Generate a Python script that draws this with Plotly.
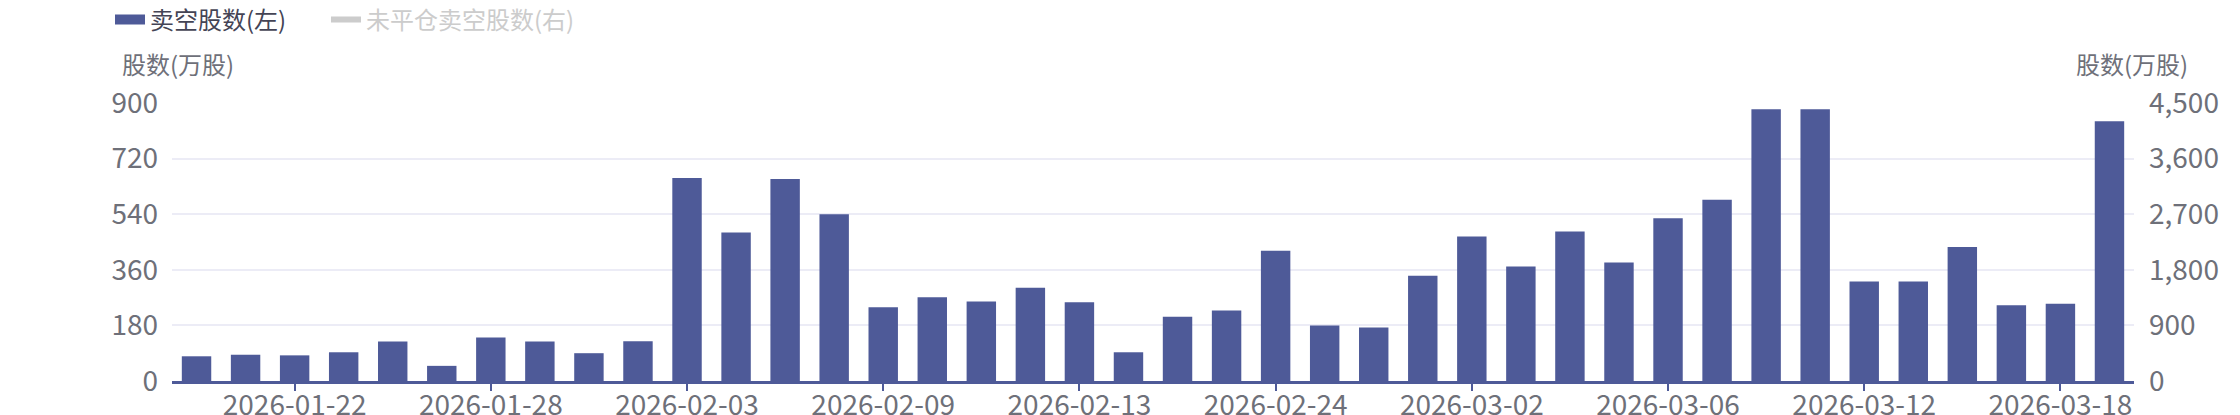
import plotly.graph_objects as go

dates = [
    "2026-01-20", "2026-01-21", "2026-01-22", "2026-01-23", "2026-01-26",
    "2026-01-27", "2026-01-28", "2026-01-29", "2026-01-30", "2026-02-02",
    "2026-02-03", "2026-02-04", "2026-02-05", "2026-02-06", "2026-02-09",
    "2026-02-10", "2026-02-11", "2026-02-12", "2026-02-13", "2026-02-16",
    "2026-02-20", "2026-02-23", "2026-02-24", "2026-02-25", "2026-02-26",
    "2026-02-27", "2026-03-02", "2026-03-03", "2026-03-04", "2026-03-05",
    "2026-03-06", "2026-03-09", "2026-03-10", "2026-03-11", "2026-03-12",
    "2026-03-13", "2026-03-16", "2026-03-17", "2026-03-18", "2026-03-19",
]
short_shares = [
    80, 85, 83, 93, 128, 49, 141, 128, 90, 129,
    657, 481, 654, 540, 239, 271, 257, 302, 255, 93,
    208, 228, 422, 180, 173, 341, 468, 371, 484, 384,
    527, 587, 880, 880, 322, 322, 434, 245, 250, 841,
]
open_short_shares = [None] * len(dates)  # series hidden in the reference

tick_dates = dates[2::4]
left_ticks = [0, 180, 360, 540, 720, 900]
right_ticks = [0, 900, 1800, 2700, 3600, 4500]

W, H = 2240, 415
L, R, T, B = 172, 106, 103, 34
pw, ph = W - L - R, H - T - B

def px_x(x):
    return (x - L) / pw

def px_y(y):
    return (H - B - y) / ph

bar_color = "#4e5a98"
tick_color = "#6e7079"
grid_color = "#ececf6"
font_family = "Noto Sans CJK SC, Noto Sans, sans-serif"

fig = go.Figure()
fig.add_trace(go.Bar(
    x=dates, y=short_shares, name="卖空股数(左)",
    marker=dict(color=bar_color, line=dict(width=0)),
    yaxis="y", showlegend=False, legendgroup="a",
))
# legend entry for the bars (wide rectangle icon)
fig.add_trace(go.Scatter(
    x=dates, y=[None] * len(dates), mode="lines",
    name="卖空股数(左)\u3000\u00a0\u00a0",
    line=dict(color=bar_color, width=14), yaxis="y", legendgroup="a",
))
fig.add_trace(go.Scatter(
    x=dates, y=open_short_shares, mode="lines",
    name="<span style='color:#cccccc'>未平仓卖空股数(右)</span>",
    line=dict(color="#cccccc", width=6),
    yaxis="y2",
))

fig.update_layout(
    width=W, height=H,
    margin=dict(l=L, r=R, t=T, b=B, autoexpand=False),
    paper_bgcolor="white", plot_bgcolor="white",
    font=dict(family=font_family, color=tick_color),
    bargap=0.4,
    showlegend=True,
    legend=dict(
        orientation="h", x=px_x(110), xanchor="left", y=px_y(20), yanchor="middle",
        font=dict(size=24, color="#444455"), itemwidth=30,
        traceorder="normal", bgcolor="rgba(0,0,0,0)",
    ),
    xaxis=dict(
        type="category", categoryorder="array", categoryarray=dates,
        tickmode="array", tickvals=tick_dates, ticktext=tick_dates,
        ticks="outside", ticklen=7, tickwidth=2, tickcolor=bar_color,
        showline=True, linecolor=bar_color, linewidth=3,
        showgrid=False, zeroline=False, automargin=False,
        ticklabelstandoff=-10,
        tickfont=dict(size=28, color=tick_color),
    ),
    yaxis=dict(
        range=[0, 900], tickmode="array", tickvals=left_ticks,
        ticktext=[f"{v:,}" for v in left_ticks],
        showgrid=True, gridcolor=grid_color, gridwidth=2,
        zeroline=False, showline=False, ticks="", ticklabelstandoff=13,
        automargin=False,
        tickfont=dict(size=28, color=tick_color),
    ),
    yaxis2=dict(
        range=[0, 4500], tickmode="array", tickvals=right_ticks,
        ticktext=[f"{v:,}" for v in right_ticks],
        overlaying="y", side="right", showgrid=False, zeroline=False,
        showline=False, ticks="", ticklabelstandoff=14, automargin=False,
        tickfont=dict(size=28, color=tick_color),
    ),
    annotations=[
        dict(text="股数(万股)", xref="paper", yref="paper",
             x=px_x(178), y=px_y(64), xanchor="center", yanchor="middle",
             showarrow=False, font=dict(size=24, color=tick_color)),
        dict(text="股数(万股)", xref="paper", yref="paper",
             x=px_x(2132), y=px_y(64), xanchor="center", yanchor="middle",
             showarrow=False, font=dict(size=24, color=tick_color)),
    ],
)

fig.write_html("out.html", config={"displayModeBar": False},
               post_script="document.body.style.margin='0';")
